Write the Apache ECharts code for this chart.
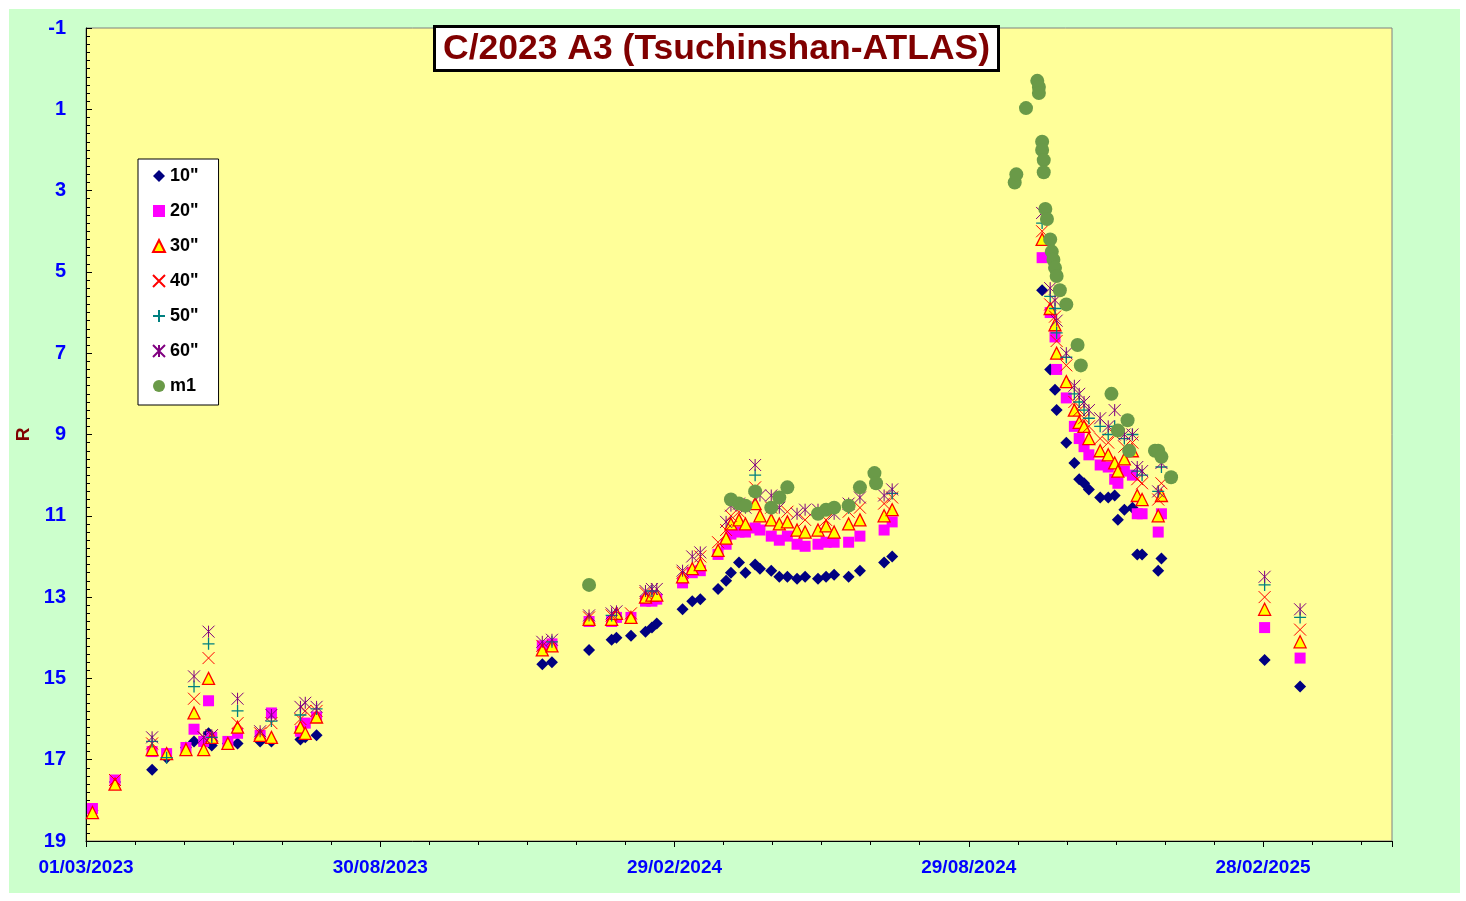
<!doctype html>
<html>
<head>
<meta charset="utf-8">
<style>
body { margin: 0; background: #fff; }
#chart-panel { position: absolute; left: 9px; top: 9px; width: 1451px; height: 884px; background: #ccffcc; }
</style>
<script src="https://cdn.jsdelivr.net/npm/echarts@6/dist/echarts.min.js"></script>
</head>
<body>
<div id="chart-panel"></div>
<script type="text/javascript">
// days since 01/03/2023
var obsDays = [4, 18, 41, 50, 62, 67, 73, 76, 78, 88, 94, 108, 115, 133, 136, 143,
    283, 289, 312, 326, 329, 338, 347, 351, 354, 370, 376, 381, 392, 397, 400, 405, 409, 415, 418,
    425, 430, 435, 441, 446, 454, 459, 464, 473, 480, 495, 500,
    593, 598, 601, 602, 608, 613, 616, 619, 622, 629, 634, 638, 640, 644, 649, 652, 655, 665, 667,
    731, 753];
var ap10 = [18.25, 17.55, 17.25, 16.95, 16.7, 16.55, 16.6, 16.35, 16.65, 16.6, 16.6, 16.55, 16.55, 16.5, 16.45, 16.4,
    14.65, 14.6, 14.3, 14.05, 14.0, 13.95, 13.85, 13.75, 13.65, 13.3, 13.1, 13.05, 12.8, 12.6, 12.4, 12.15, 12.4, 12.2, 12.3,
    12.35, 12.5, 12.5, 12.55, 12.5, 12.55, 12.5, 12.45, 12.5, 12.35, 12.15, 12.0,
    5.45, 7.4, 7.9, 8.4, 9.2, 9.7, 10.1, 10.2, 10.35, 10.55, 10.55, 10.5, 11.1, 10.85, 10.8, 11.95, 11.95, 12.35, 12.05,
    14.55, 15.2];
var ap20 = [18.2, 17.5, 16.8, 16.85, 16.7, 16.25, 16.55, 15.55, 16.45, 16.55, 16.35, 16.4, 15.85, 16.3, 16.1, 15.95,
    14.2, 14.15, 13.6, 13.6, 13.5, 13.5, 13.1, 13.1, 13.05, 12.65, 12.4, 12.35, 11.95, 11.7, 11.45, 11.4, 11.4, 11.3, 11.35,
    11.5, 11.6, 11.5, 11.7, 11.75, 11.7, 11.65, 11.65, 11.65, 11.5, 11.35, 11.15,
    4.65, 6.0, 6.6, 7.4, 8.1, 8.8, 9.1, 9.3, 9.5, 9.75, 9.8, 10.1, 10.2, 9.9, 10.0, 10.95, 10.95, 11.4, 10.95,
    13.75, 14.5];
var ap30 = [18.3, 17.6, 16.75, 16.85, 16.75, 15.85, 16.75, 15.0, 16.45, 16.6, 16.2, 16.4, 16.45, 16.2, 16.35, 15.95,
    14.3, 14.2, 13.55, 13.55, 13.4, 13.5, 13.0, 12.95, 12.95, 12.5, 12.3, 12.2, 11.85, 11.55, 11.2, 11.1, 11.2, 10.7, 11.0,
    11.1, 11.2, 11.15, 11.35, 11.4, 11.35, 11.25, 11.4, 11.2, 11.1, 11.0, 10.85,
    4.2, 5.9, 6.3, 7.0, 7.7, 8.4, 8.7, 8.8, 9.1, 9.4, 9.5, 9.7, 9.9, 9.6, 9.4, 10.5, 10.6, 11.0, 10.5,
    13.3, 14.1];
var ap40 = [null, 17.5, 16.6, null, null, 15.5, 16.45, 14.5, 16.4, null, 16.1, 16.35, 16.1, 16.0, 15.8, 15.8,
    14.2, null, 13.5, 13.45, null, 13.4, 12.9, null, null, 12.4, null, 12.0, 11.65, 11.35, 11.0, 10.9, null, 10.3, null,
    10.8, null, 10.9, null, 11.1, null, 11.1, null, 10.9, 10.8, 10.7, 10.55,
    4.0, 5.8, 6.1, 6.7, 7.3, 8.2, 8.4, 8.6, 8.8, 9.1, 9.2, 9.0, null, 9.3, 9.2, 10.1, 10.2, 10.6, 10.2,
    13.0, 13.8];
var ap50 = [null, null, 16.55, 16.95, null, 15.2, null, 14.15, 16.45, null, 15.8, null, 16.05, 15.9, null, 15.75,
    null, 14.1, null, 13.45, null, null, null, 12.85, null, null, null, null, null, null, null, null, null, 10.0, null,
    null, null, null, null, null, null, null, null, 10.8, null, null, 10.45,
    3.8, 5.6, 5.9, 6.5, 7.1, 8.0, 8.2, 8.4, 8.6, 8.8, 9.0, 8.8, null, 9.1, 9.0, 9.9, 10.0, 10.4, 9.8,
    12.7, 13.5];
var ap60 = [null, null, 16.45, null, null, 14.95, 16.45, 13.85, 16.4, null, 15.5, 16.3, 15.9, 15.7, 15.6, 15.7,
    14.1, 14.05, 13.45, 13.4, 13.35, null, 12.85, 12.8, 12.8, 12.35, 12.0, 11.9, null, 11.15, 10.75, 10.7, 10.8, 9.75, 10.5,
    10.5, 10.8, null, 10.95, 10.85, 10.85, null, 10.95, 10.7, 10.55, 10.5, 10.35,
    3.55, 5.4, 5.7, 6.2, 7.0, 7.8, 8.0, 8.2, 8.4, 8.6, 8.8, 8.4, null, 9.0, 9.0, 9.8, 9.9, 10.4, 9.7,
    12.5, 13.3];
var m1Days = [312, 400, 405, 409, 415, 425, 430, 435, 454, 459, 464, 473, 480, 489, 490,
    576, 577, 583, 590, 591, 591, 593, 593, 594, 594, 595, 596, 598, 599, 600, 601, 602, 604, 608, 615, 617,
    636, 640, 646, 647, 663, 665, 667, 673];
var m1Mag = [12.7, 10.6, 10.7, 10.75, 10.4, 10.8, 10.55, 10.3, 10.95, 10.85, 10.8, 10.75, 10.3, 9.95, 10.2,
    2.8, 2.6, 0.97, 0.3, 0.45, 0.6, 1.8, 2.0, 2.25, 2.55, 3.45, 3.7, 4.2, 4.5, 4.7, 4.9, 5.1, 5.45, 5.8, 6.8, 7.3,
    8.0, 8.9, 8.65, 9.4, 9.4, 9.4, 9.55, 10.05];
var labelDays = [0, 182.5, 365, 547.5, 730];

function pairs(days, vals) {
    var out = [];
    for (var i = 0; i < days.length; i++) {
        if (vals[i] != null) out.push([days[i], vals[i]]);
    }
    return out;
}
function dayLabel(v) {
    var d = new Date(Date.UTC(2023, 2, 1) + Math.floor(v) * 86400000);
    var dd = ('0' + d.getUTCDate()).slice(-2), mm = ('0' + (d.getUTCMonth() + 1)).slice(-2);
    return dd + '/' + mm + '/' + d.getUTCFullYear();
}

var crossPath = 'path://M0,0L10,10M10,0L0,10';
var plusPath = 'path://M5,0L5,10M0,5L10,5';
var starPath = 'path://M0,0L10,10M10,0L0,10M5,0L5,10';

var myChart = echarts.init(document.getElementById('chart-panel'));
var option = {
    animation: false,
    textStyle: { fontFamily: 'Liberation Sans, Arial' },
    title: {
        text: 'C/2023 A3 (Tsuchinshan-ATLAS)',
        left: 425, top: 17,
        backgroundColor: '#fff', borderColor: '#000', borderWidth: 3,
        padding: [4, 9, 3, 9],
        textStyle: { color: '#800000', fontSize: 35.5, fontWeight: 'bold', lineHeight: 38 }
    },
    legend: {
        orient: 'vertical', left: 129, top: 150,
        backgroundColor: '#fff', borderColor: '#000', borderWidth: 1,
        padding: [8, 20, 10, 14], itemGap: 17, itemWidth: 12, itemHeight: 12,
        textStyle: { fontSize: 18, fontWeight: 'bold', color: '#000' },
        data: ['10"', '20"', '30"', '40"', '50"', '60"', 'm1']
    },
    grid: {
        left: 77, top: 19, right: 68, bottom: 52, outerBoundsMode: 'none',
        show: true, backgroundColor: '#ffff99', borderColor: '#808080', borderWidth: 1
    },
    xAxis: {
        type: 'value', min: 0, max: 810, interval: 182.5,
        axisLine: { show: true, onZero: false, lineStyle: { color: '#000' } },
        axisTick: { show: true, length: 6, lineStyle: { color: '#000' } },
        minorTick: { show: true, splitNumber: 6, length: 4, lineStyle: { color: '#000' } },
        splitLine: { show: false },
        axisLabel: {
            color: '#0000ff', fontSize: 19, fontWeight: 'bold', margin: 17, showMaxLabel: false,
            formatter: function (v) { return labelDays.indexOf(v) >= 0 ? dayLabel(v) : ''; }
        }
    },
    yAxis: {
        type: 'value', inverse: true, min: -1, max: 19, interval: 2,
        name: 'R', nameLocation: 'middle', nameGap: 50, nameRotate: 90,
        nameTextStyle: { color: '#800000', fontSize: 19, fontWeight: 'bold' },
        axisLine: { show: true, lineStyle: { color: '#000' } },
        axisTick: { show: true, inside: true, length: 6, lineStyle: { color: '#000' } },
        minorTick: { show: true, splitNumber: 10, length: 4, lineStyle: { color: '#000' } },
        splitLine: { show: false },
        axisLabel: { color: '#0000ff', fontSize: 20, fontWeight: 'bold', margin: 20 }
    },
    series: [
        { name: '10"', type: 'scatter', symbol: 'diamond', symbolSize: 12, data: pairs(obsDays, ap10),
          itemStyle: { color: '#000080', opacity: 1 } },
        { name: '20"', type: 'scatter', symbol: 'rect', symbolSize: 11, data: pairs(obsDays, ap20),
          itemStyle: { color: '#ff00ff', opacity: 1 } },
        { name: '30"', type: 'scatter', symbol: 'triangle', symbolSize: 12, data: pairs(obsDays, ap30),
          itemStyle: { color: '#ffff00', borderColor: '#ff0000', borderWidth: 1.3, opacity: 1 } },
        { name: '40"', type: 'scatter', symbol: crossPath, symbolSize: 12, data: pairs(obsDays, ap40),
          itemStyle: { color: 'rgba(0,0,0,0)', borderColor: '#ff0000', borderWidth: 1, opacity: 1 } },
        { name: '50"', type: 'scatter', symbol: plusPath, symbolSize: 12, data: pairs(obsDays, ap50),
          itemStyle: { color: 'rgba(0,0,0,0)', borderColor: '#008080', borderWidth: 1.3, opacity: 1 } },
        { name: '60"', type: 'scatter', symbol: starPath, symbolSize: 12, data: pairs(obsDays, ap60),
          itemStyle: { color: 'rgba(0,0,0,0)', borderColor: '#800080', borderWidth: 1, opacity: 1 } },
        { name: 'm1', type: 'scatter', symbol: 'circle', symbolSize: 14, data: pairs(m1Days, m1Mag),
          itemStyle: { color: '#6a9a48', opacity: 1 } }
    ]
};
myChart.setOption(option);
</script>
</body>
</html>
